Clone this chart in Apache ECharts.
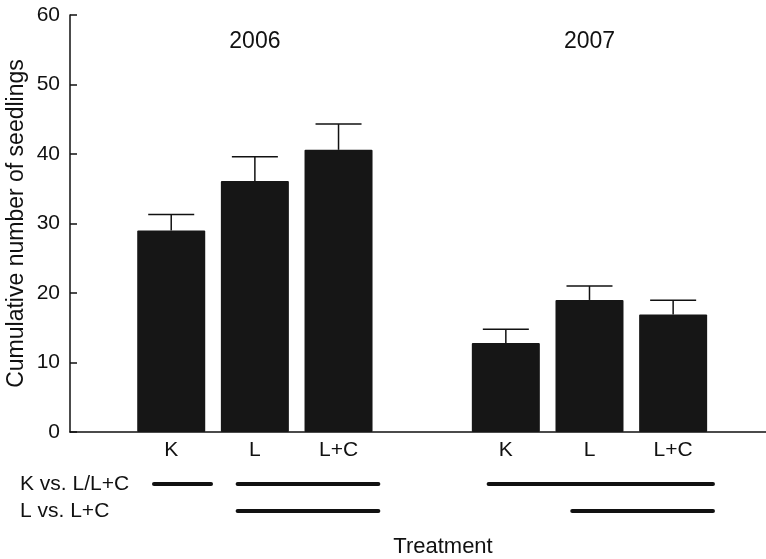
<!DOCTYPE html>
<html><head><meta charset="utf-8">
<script src="https://cdn.jsdelivr.net/npm/echarts@6/dist/echarts.min.js"></script>
<style>html,body{margin:0;padding:0;background:#fff}#c{width:766px;height:559px}</style>
</head><body><div id="c"></div>
<script>
const years = ['2006', '2007'];
const treatments = ['K', 'L', 'L+C'];
const means2006 = [29.0, 36.1, 40.6];
const means2007 = [12.8, 19.0, 16.9];
const se2006 = [2.3, 3.5, 3.7];
const se2007 = [2.0, 2.0, 2.05];
const yTicks = [0, 10, 20, 30, 40, 50, 60];
const comparisons = ['K vs. L/L+C', 'L vs. L+C'];
// treatment groups (indices into treatments) joined by a line, per comparison row
const groups2006 = [[[0], [1, 2]], [[1, 2]]];
const groups2007 = [[[0, 1, 2]], [[1, 2]]];

const FONT = 'Liberation Sans, Arial, sans-serif';
const INK = '#111';
const means = [means2006, means2007];
const ses = [se2006, se2007];
const groups = [groups2006, groups2007];
const slotsPerYear = treatments.length + 1;
const pos = (g, i) => g * slotsPerYear + i + 1;

const barData = [], errData = [], yearData = [], segData = [];
years.forEach((yr, g) => {
  treatments.forEach((t, i) => {
    barData.push({ value: [pos(g, i), means[g][i]], name: t });
    errData.push([pos(g, i), means[g][i], means[g][i] + ses[g][i]]);
  });
  yearData.push({ value: [pos(g, 1), yTicks[yTicks.length - 1]], name: yr });
  groups[g].forEach((row, r) => {
    row.forEach(gr => {
      segData.push([pos(g, gr[0]) - 0.23, pos(g, gr[gr.length - 1]) + 0.5, r]);
    });
  });
});

const xMin = -0.21, xMax = 8.11;
const chart = echarts.init(document.getElementById('c'), null, { renderer: 'canvas' });
chart.setOption({
  animation: false,
  textStyle: { fontFamily: FONT },
  grid: [
    { left: 70, right: 0, top: 15, bottom: 127, containLabel: false, outerBoundsMode: 'none' },
    { left: 70, right: 0, top: 470.5, height: 54, containLabel: false, outerBoundsMode: 'none' }
  ],
  xAxis: [
    { gridIndex: 0, type: 'value', min: xMin, max: xMax,
      axisLine: { show: true, onZero: false, lineStyle: { color: INK, width: 1.5 } },
      axisTick: { show: false }, axisLabel: { show: false }, splitLine: { show: false } },
    { gridIndex: 1, type: 'value', min: xMin, max: xMax, show: false }
  ],
  yAxis: [
    { gridIndex: 0, type: 'value', min: yTicks[0], max: yTicks[yTicks.length - 1], interval: yTicks[1] - yTicks[0],
      axisLine: { show: true, onZero: false, lineStyle: { color: INK, width: 1.5 } },
      axisTick: { show: true, inside: true, length: 7, lineStyle: { color: INK, width: 1.5 } },
      splitLine: { show: false },
      axisLabel: { color: INK, fontSize: 21, margin: 10, fontFamily: FONT },
      name: 'Cumulative number of seedlings', nameLocation: 'middle', nameGap: 42, nameMoveOverlap: false,
      nameTextStyle: { color: INK, fontSize: 23, fontFamily: FONT } },
    { gridIndex: 1, type: 'category', data: comparisons, inverse: true,
      axisLine: { show: false }, axisTick: { show: false }, splitLine: { show: false },
      axisLabel: { color: INK, fontSize: 21, align: 'left', margin: 50, interval: 0, hideOverlap: false, fontFamily: FONT } }
  ],
  graphic: [
    { type: 'text', x: 443, y: 547, style: { text: 'Treatment', fill: INK, font: '22px ' + FONT, align: 'center', verticalAlign: 'middle' } }
  ],
  series: [
    { type: 'bar', xAxisIndex: 0, yAxisIndex: 0, data: barData, barWidth: 68,
      itemStyle: { color: '#161616', borderRadius: 1 },
      label: { show: true, position: 'bottom', distance: 8, formatter: p => p.name, color: INK, fontSize: 21, fontFamily: FONT } },
    { type: 'custom', xAxisIndex: 0, yAxisIndex: 0, data: errData,
      renderItem: (params, api) => {
        const p0 = api.coord([api.value(0), api.value(1)]);
        const p1 = api.coord([api.value(0), api.value(2)]);
        const st = { stroke: INK, lineWidth: 1.5 };
        return { type: 'group', children: [
          { type: 'line', shape: { x1: p0[0], y1: p0[1], x2: p1[0], y2: p1[1] }, style: st },
          { type: 'line', shape: { x1: p1[0] - 23, y1: p1[1], x2: p1[0] + 23, y2: p1[1] }, style: st }
        ] };
      } },
    { type: 'custom', xAxisIndex: 0, yAxisIndex: 0, data: yearData,
      renderItem: (params, api) => {
        const p = api.coord([api.value(0), api.value(1)]);
        return { type: 'text', x: p[0], y: p[1] + 27,
          style: { text: yearData[params.dataIndex].name, fill: INK, font: '23px ' + FONT, align: 'center', verticalAlign: 'middle' } };
      } },
    { type: 'custom', xAxisIndex: 1, yAxisIndex: 1, data: segData,
      renderItem: (params, api) => {
        const p0 = api.coord([api.value(0), api.value(2)]);
        const p1 = api.coord([api.value(1), api.value(2)]);
        return { type: 'line', shape: { x1: p0[0] + 2, y1: p0[1], x2: p1[0] - 2, y2: p1[1] },
          style: { stroke: INK, lineWidth: 4, lineCap: 'round' } };
      } }
  ]
});
</script></body></html>
